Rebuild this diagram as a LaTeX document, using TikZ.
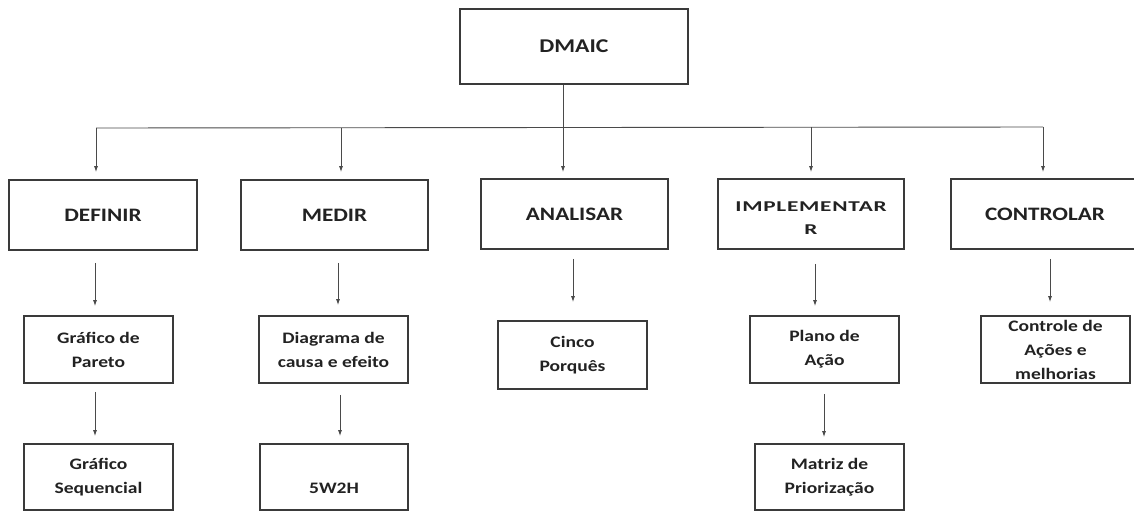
\documentclass[tikz,border=0pt]{standalone}
\usepackage{fontspec}
\setmainfont{Carlito}[FakeStretch=1.22]
\newfontfamily\widefont{Carlito}[FakeStretch=1.55, LetterSpace=5]
\usetikzlibrary{arrows.meta}
\definecolor{boxc}{HTML}{3A3A3A}
\definecolor{linec}{HTML}{4A4A4A}
\definecolor{txtc}{HTML}{222222}
\begin{document}
\begin{tikzpicture}[x=1pt,y=-1pt,
  box/.style={draw=boxc, line width=1.8pt, rectangle, inner sep=0pt, align=center, text=txtc},
  big/.style={font=\fontsize{19}{22}\selectfont\bfseries},
  small/.style={font=\fontsize{16}{24}\selectfont\bfseries},
  conn/.style={draw=linec, line width=0.9pt},
  arr/.style={conn, -{Latex[length=6pt,width=4pt]}}
]
\useasboundingbox (0,0) rectangle (1134,512);

% top
\node[box, font=\fontsize{19.5}{22}\selectfont\bfseries, minimum width=228, minimum height=75] (dmaic) at (574,46.5) {DMAIC};

% level one
\node[box, big, minimum width=188, minimum height=70] (definir) at (103,215) {DEFINIR};
\node[box, big, minimum width=187, minimum height=70] (medir) at (334.5,215) {MEDIR};
\node[box, big, minimum width=187, minimum height=70] (analisar) at (574.5,214) {ANALISAR};
\node[box, minimum width=186, minimum height=70] (implementar) at (811,214)
  {\raisebox{-8pt}[0pt][0pt]{\widefont\fontsize{15}{22}\selectfont\bfseries\begin{tabular}{@{}c@{}}IMPLEMENTAR\\[1pt] R\end{tabular}}};
\node[box, big, minimum width=188, minimum height=70] (controlar) at (1045,214) {CONTROLAR};

% level two
\node[box, small, minimum width=149, minimum height=67] (pareto) at (98.5,349.5) {Gráfico de\\Pareto};
\node[box, small, minimum width=149, minimum height=67] (diagrama) at (333.5,349.5) {Diagrama de\\causa e efeito};
\node[box, small, minimum width=149, minimum height=68] (cinco) at (572.5,355) {Cinco\\Porquês};
\node[box, small, minimum width=149, minimum height=67] (plano) at (824.5,349.5) {Plano de\\Ação};
\node[box, small, minimum width=149, minimum height=67] (controle) at (1055.5,349.5) {Controle de\\Ações e\\melhorias};

% level three
\node[box, small, minimum width=149, minimum height=66] (sequencial) at (98.5,477) {Gráfico\\Sequencial};
\node[box, small, minimum width=148, minimum height=66] (w2h) at (334,477) {\raisebox{-16pt}[0pt][0pt]{5W2H}};
\node[box, small, minimum width=149, minimum height=66] (matriz) at (829.5,477) {Matriz de\\Priorização};

% bus coordinates
\coordinate (b1) at (96,128);
\coordinate (b2) at (341,128);
\coordinate (b3) at (563,127);
\coordinate (b4) at (811,127);
\coordinate (b5) at (1043,127);

\draw[conn] (b1) -- (b5);
\draw[arr, shorten >=6pt] (b3 |- dmaic.south) -- (b3 |- analisar.north);
\draw[arr, shorten >=7pt] (b1) -- (b1 |- definir.north);
\draw[arr, shorten >=7pt] (b2) -- (b2 |- medir.north);
\draw[arr, shorten >=6pt] (b4) -- (b4 |- implementar.north);
\draw[arr, shorten >=6pt] (b5) -- (b5 |- controlar.north);

% level two arrows
\coordinate (p1) at (95,0);
\coordinate (p2) at (338,0);
\coordinate (p3) at (573,0);
\coordinate (p4) at (815,0);
\coordinate (p5) at (1050,0);
\draw[arr, shorten <=12pt, shorten >=9pt] (p1 |- definir.south) -- (p1 |- pareto.north);
\draw[arr, shorten <=12pt, shorten >=10pt] (p2 |- medir.south) -- (p2 |- diagrama.north);
\draw[arr, shorten <=9pt, shorten >=18pt] (p3 |- analisar.south) -- (p3 |- cinco.north);
\draw[arr, shorten <=14pt, shorten >=9pt] (p4 |- implementar.south) -- (p4 |- plano.north);
\draw[arr, shorten <=9pt, shorten >=13pt] (p5 |- controlar.south) -- (p5 |- controle.north);

% level three arrows
\coordinate (q1) at (95,0);
\coordinate (q2) at (340,0);
\coordinate (q4) at (824,0);
\draw[arr, shorten <=8pt, shorten >=7pt] (q1 |- pareto.south) -- (q1 |- sequencial.north);
\draw[arr, shorten <=11pt, shorten >=7pt] (q2 |- diagrama.south) -- (q2 |- w2h.north);
\draw[arr, shorten <=10pt, shorten >=6pt] (q4 |- plano.south) -- (q4 |- matriz.north);
\end{tikzpicture}
\end{document}
